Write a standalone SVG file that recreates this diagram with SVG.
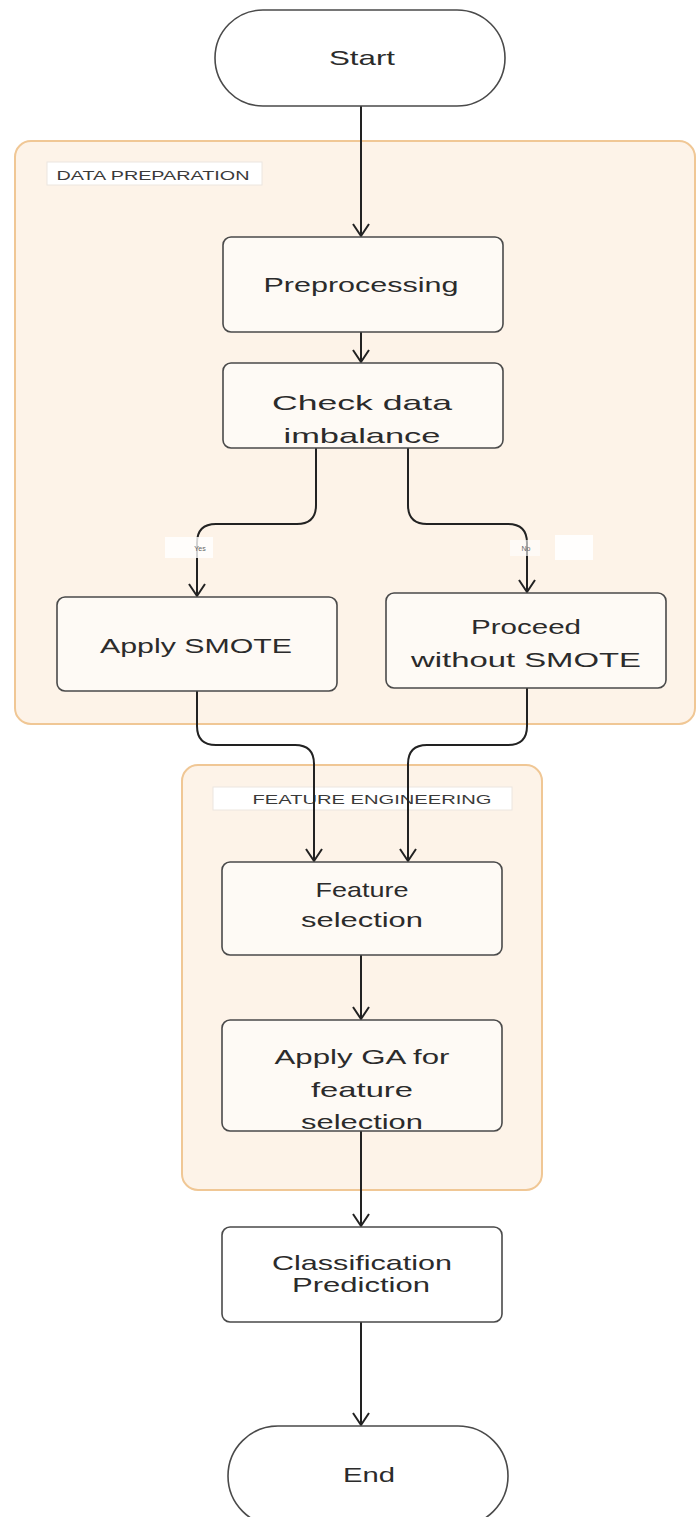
<svg xmlns="http://www.w3.org/2000/svg" width="698" height="1517" viewBox="0 0 698 1517">
  <style>
    .group { fill: #fdf3e8; stroke: #f0c795; stroke-width: 2; }
    .tag { fill: #ffffff; stroke: #ece6df; stroke-width: 1; }
    .tagtext { font-family: "Liberation Sans", Arial, sans-serif; font-size: 13px; fill: #3a3a3a; text-anchor: middle; }
    .node { fill: #fefaf5; stroke: #4a4a4a; stroke-width: 1.6; }
    .plain { fill: #ffffff; stroke: #4a4a4a; stroke-width: 1.6; }
    .label { font-family: "Liberation Sans", Arial, sans-serif; font-size: 21px; fill: #2b2b2b; text-anchor: middle; }
    .edge { fill: none; stroke: #222222; stroke-width: 2; marker-end: url(#arrow); }
    .edgelabel { font-family: "Liberation Sans", Arial, sans-serif; font-size: 7px; fill: #666666; text-anchor: middle; }
  </style>
  <defs>
    <marker id="arrow" markerUnits="userSpaceOnUse" markerWidth="30" markerHeight="30" refX="0" refY="0" viewBox="-15 -15 30 30" orient="auto">
      <path d="M-12,-8 L0,0 L-12,8" fill="none" stroke="#222222" stroke-width="2"/>
    </marker>
  </defs>

  <rect width="698" height="1517" fill="#ffffff"/>

  <!-- clusters -->
  <g id="data-preparation">
    <rect class="group" x="15" y="141" width="680" height="583" rx="16"/>
    <rect class="tag" x="47" y="162" width="215" height="23"/>
    <text class="tagtext" x="153" y="180" textLength="193" lengthAdjust="spacingAndGlyphs">DATA PREPARATION</text>
  </g>
  <g id="feature-engineering">
    <rect class="group" x="182" y="765" width="360" height="425" rx="16"/>
    <rect class="tag" x="213" y="787" width="299" height="23"/>
    <text class="tagtext" x="372" y="804" textLength="239" lengthAdjust="spacingAndGlyphs">FEATURE ENGINEERING</text>
  </g>

  <!-- connectors -->
  <g id="connectors">
    <path class="edge" d="M361 106 V236"/>
    <path class="edge" d="M361 332 V362"/>
    <path class="edge" d="M316 448 V505 Q316 524 297 524 H216 Q197 524 197 543 V596"/>
    <path class="edge" d="M408 448 V505 Q408 524 427 524 H508 Q527 524 527 543 V592"/>
    <path class="edge" d="M197 691 V726 Q197 745 216 745 H295 Q314 745 314 764 V861"/>
    <path class="edge" d="M527 688 V726 Q527 745 508 745 H427 Q408 745 408 764 V861"/>
    <path class="edge" d="M361 955 V1019"/>
    <path class="edge" d="M361 1131 V1226"/>
    <path class="edge" d="M361 1322 V1425"/>
    <rect x="165" y="537" width="48" height="21" fill="#ffffff" opacity="0.8"/>
    <text class="edgelabel" x="200" y="551">Yes</text>
    <rect x="510" y="540" width="30" height="16" fill="#ffffff" opacity="0.6"/>
    <text class="edgelabel" x="526" y="551">No</text>
    <rect x="555" y="535" width="38" height="25" fill="#ffffff" opacity="0.9"/>
  </g>

  <!-- nodes -->
  <g id="start">
    <rect class="plain" x="215" y="10" width="290" height="96" rx="48"/>
    <text class="label" x="362" y="65" textLength="66" lengthAdjust="spacingAndGlyphs">Start</text>
  </g>
  <g id="preprocessing">
    <rect class="node" x="223" y="237" width="280" height="95" rx="8"/>
    <text class="label" x="361" y="292" textLength="195" lengthAdjust="spacingAndGlyphs">Preprocessing</text>
  </g>
  <g id="check-imbalance">
    <rect class="node" x="223" y="363" width="280" height="85" rx="8"/>
    <text class="label" x="362" y="410" textLength="180" lengthAdjust="spacingAndGlyphs">Check data</text>
    <text class="label" x="362" y="443" textLength="157" lengthAdjust="spacingAndGlyphs">imbalance</text>
  </g>
  <g id="apply-smote">
    <rect class="node" x="57" y="597" width="280" height="94" rx="8"/>
    <text class="label" x="196" y="653" textLength="192" lengthAdjust="spacingAndGlyphs">Apply SMOTE</text>
  </g>
  <g id="proceed-without-smote">
    <rect class="node" x="386" y="593" width="280" height="95" rx="8"/>
    <text class="label" x="526" y="634" textLength="110" lengthAdjust="spacingAndGlyphs">Proceed</text>
    <text class="label" x="526" y="667" textLength="230" lengthAdjust="spacingAndGlyphs">without SMOTE</text>
  </g>
  <g id="feature-selection">
    <rect class="node" x="222" y="862" width="280" height="93" rx="8"/>
    <text class="label" x="362" y="897" textLength="93" lengthAdjust="spacingAndGlyphs">Feature</text>
    <text class="label" x="362" y="927" textLength="122" lengthAdjust="spacingAndGlyphs">selection</text>
  </g>
  <g id="apply-ga">
    <rect class="node" x="222" y="1020" width="280" height="111" rx="8"/>
    <text class="label" x="362" y="1064" textLength="175" lengthAdjust="spacingAndGlyphs">Apply GA for</text>
    <text class="label" x="362" y="1097" textLength="102" lengthAdjust="spacingAndGlyphs">feature</text>
    <text class="label" x="362" y="1129" textLength="122" lengthAdjust="spacingAndGlyphs">selection</text>
  </g>
  <g id="classification">
    <rect class="plain" x="222" y="1227" width="280" height="95" rx="8"/>
    <text class="label" x="362" y="1270" textLength="180" lengthAdjust="spacingAndGlyphs">Classification</text>
    <text class="label" x="361" y="1292" textLength="138" lengthAdjust="spacingAndGlyphs">Prediction</text>
  </g>
  <g id="end">
    <rect class="plain" x="228" y="1426" width="280" height="100" rx="50"/>
    <text class="label" x="369" y="1482" textLength="52" lengthAdjust="spacingAndGlyphs">End</text>
  </g>
</svg>
